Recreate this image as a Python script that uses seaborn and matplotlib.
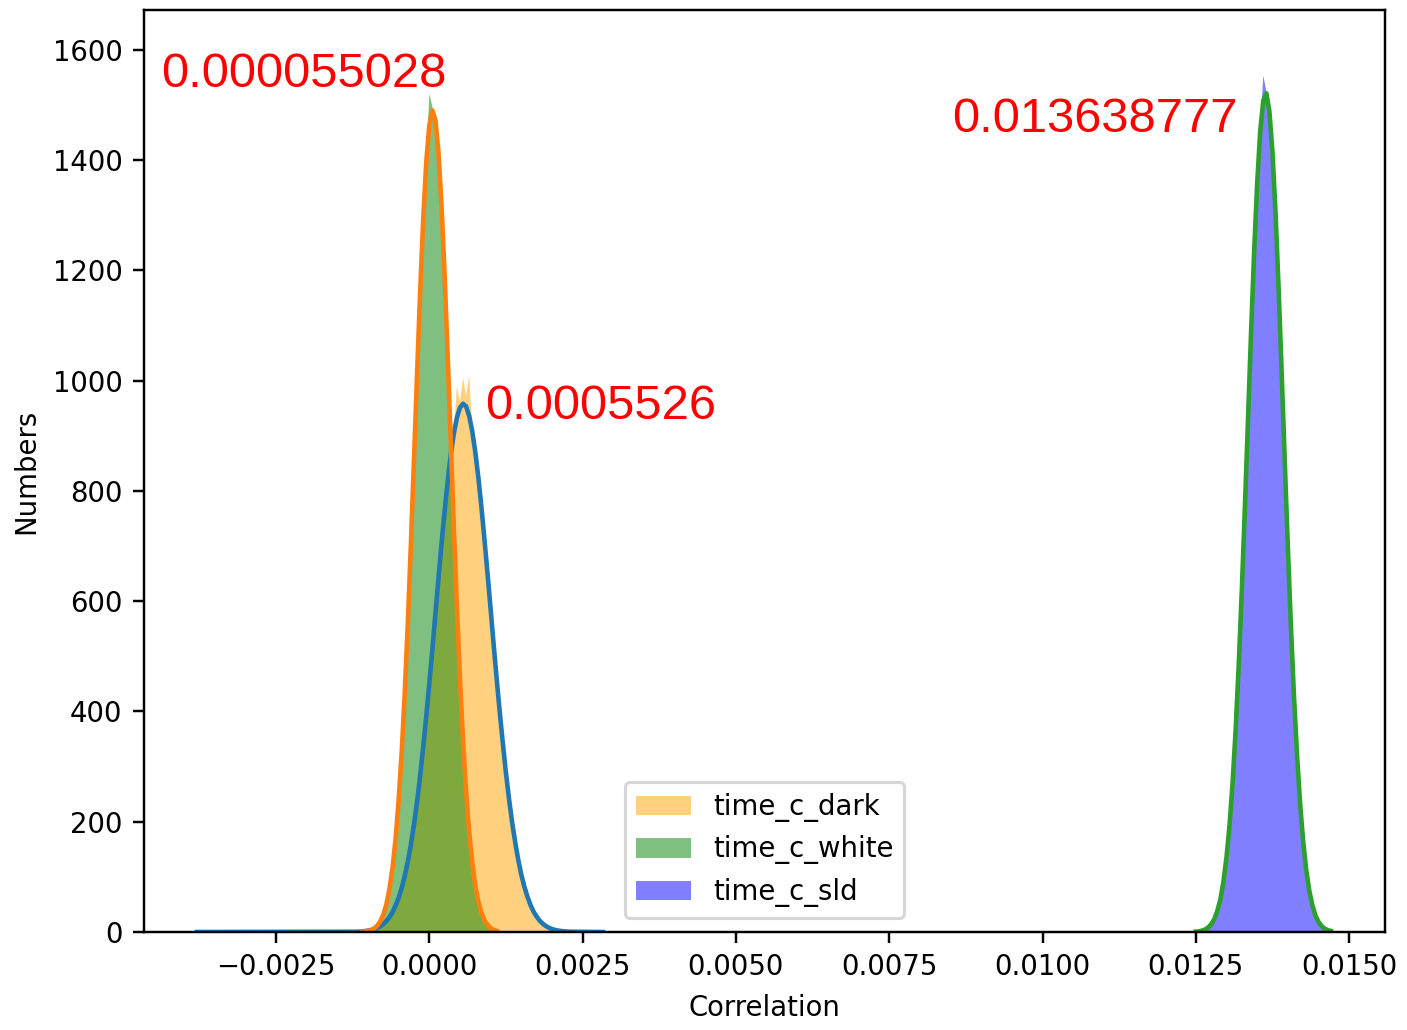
import numpy as np
import pandas as pd
import matplotlib
matplotlib.use("Agg")
import matplotlib.pyplot as plt
import seaborn as sns

plt.rcParams["font.size"] = 9

# --- veriler ---
labels = ["time_c_dark", "time_c_white", "time_c_sld"]
hist_colors = ["orange", "green", "blue"]
fit_colors = ["C0", "C1", "C2"]

# time_c_dark: 0.00005 aralikli noktalar, -0.0012 .. 0.0023
dark_x = np.round(np.arange(-0.0012, 0.002301, 0.00005), 5)
dark_counts = [0.5, 0.7, 1.1, 1.7, 2.5, 3.6, 5.2, 7.4, 10.5, 14.5, 20, 27, 36, 48, 62, 80,
               102, 128, 160, 196, 236, 284, 336, 392, 452, 514, 580, 643, 706, 765, 820,
               868, 905, 990, 962, 1005, 972, 1010, 915, 872, 825, 771, 712, 650, 586, 521,
               458, 398, 342, 289, 242, 200, 163, 131, 104, 82, 64, 49, 37, 28, 20, 15, 11,
               7.7, 5.4, 3.8, 2.6, 1.8, 1.2, 0.8, 0.5]
dark_fit = [0, 0.5, 0.7, 1.1, 1.7, 2.5, 3.6, 5.2, 7.4, 10.5, 14.5, 20, 27, 36, 48, 62, 80,
            102, 128, 159, 195, 236, 283, 335, 391, 451, 513, 578, 642, 705, 764, 818, 866,
            904, 933, 951, 958, 953, 936, 908, 870, 824, 770, 711, 649, 585, 520, 457, 397,
            341, 288, 241, 199, 163, 131, 104, 82, 64, 49, 37, 28, 20.5, 15, 10.8, 7.7,
            5.4, 3.8, 2.6, 1.8, 1.2, 0.8, 0.5, 0]
dark_fit_x = np.concatenate([[-0.00379], dark_x, [0.00283]])

# time_c_white: 0.00005 aralikli, -0.0011 .. 0.0011
white_x = np.round(np.arange(-0.0011, 0.001101, 0.00005), 5)
white_counts = [1, 1, 2, 4, 7, 11, 19, 32, 50, 78, 116, 170, 240, 328, 436, 563, 706, 858,
                1013, 1162, 1293, 1400, 1520, 1497, 1440, 1415, 1316, 1190, 1044, 889, 735,
                590, 460, 348, 256, 183, 127, 85, 56, 36, 22, 13, 7, 4, 2]
white_fit = [0.5, 1, 2, 3.7, 6.6, 11.4, 19.3, 31.6, 50, 78, 116, 169, 239, 327, 435, 562,
             705, 857, 1012, 1160, 1291, 1396, 1463, 1490, 1472, 1412, 1315, 1189, 1043,
             888, 734, 589, 459, 347, 255, 182, 126, 84, 55, 35, 21, 13, 7, 4, 2]

# time_c_sld: 0.00005 aralikli, 0.0125 .. 0.0147
sld_x = np.round(np.arange(0.0125, 0.014701, 0.00005), 5)
sld_counts = [1, 1, 2, 4, 8, 14, 23, 38, 59, 91, 135, 194, 271, 368, 485, 620, 770, 927,
              1085, 1231, 1357, 1452, 1553, 1525, 1488, 1414, 1304, 1167, 1014, 855, 700,
              557, 429, 322, 234, 165, 113, 75, 49, 30, 18, 11, 6, 3, 2]
sld_fit = [0.7, 1.3, 2.5, 4.5, 8, 14, 23, 38, 59, 91, 135, 194, 271, 368, 485, 620, 770,
           927, 1085, 1231, 1357, 1452, 1508, 1521, 1488, 1414, 1304, 1167, 1014, 855, 700,
           557, 429, 322, 234, 165, 113, 75, 49, 30, 18.5, 11, 6, 3.5, 2]

# ortalama degerleri (kirmizi yazilar)
annot_texts = ["0.000055028", "0.0005526", "0.013638777"]
annot_x = [-0.00437, 0.00091, 0.00852]
annot_y = [1533, 930, 1450]

# --- cizim ---
fig = plt.figure(figsize=(1407 / 220, 1030 / 220), dpi=220)
ax = fig.add_axes([144 / 1407, 1 - 932 / 1030, (1385 - 144) / 1407, (932 - 10) / 1030])

series = [(dark_x, dark_counts), (white_x, white_counts), (sld_x, sld_counts)]
step = 0.00005
for (xs, cs), lab, col in zip(series, labels, hist_colors):
    df = pd.DataFrame({"corr": xs, "n": cs})
    sns.histplot(data=df, x="corr", weights="n", binwidth=step,
                 binrange=(xs[0] - step / 2, xs[-1] + step / 2), element="poly",
                 color=col, alpha=0.5, linewidth=0, edgecolor="none", label=lab, ax=ax)

fits = [(dark_fit_x, dark_fit), (white_x, white_fit), (sld_x, sld_fit)]
for (xs, ys), col in zip(fits, fit_colors):
    sns.lineplot(x=xs, y=ys, color=col, linewidth=1.5, ax=ax)

for t, x, y in zip(annot_texts, annot_x, annot_y):
    ax.text(x, y, t, color="red", fontsize=16, family="Liberation Sans")

ax.set_xlim(-0.004653, 0.015585)
ax.set_ylim(0, 1672)
ax.set_xlabel("Correlation")
ax.set_ylabel("Numbers")
ax.legend(loc="lower center")

fig.savefig("out.png", dpi=220)
